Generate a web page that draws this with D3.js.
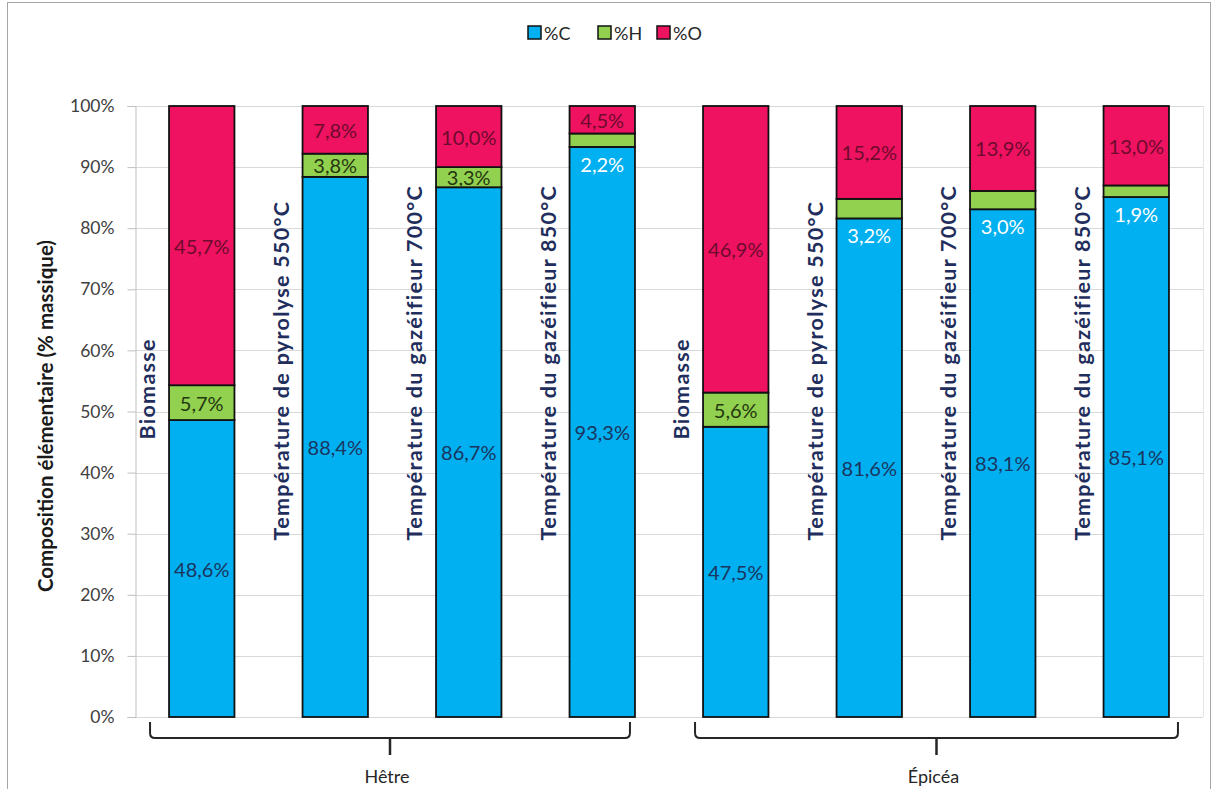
<!DOCTYPE html>
<html><head><meta charset="utf-8">
<script src="https://cdn.jsdelivr.net/npm/d3@7"></script>
<style>
html,body{margin:0;padding:0;background:#fff;}
svg{display:block;font-family:Lato,"Open Sans",sans-serif;}
</style></head>
<body>
<svg id="chart" width="1212" height="789"></svg>
<script>
// ---- data ----
const groups = ["Hêtre", "Épicéa"];
const categories = [
  "Biomasse", "Température de pyrolyse 550°C", "Température du gazéifieur 700°C", "Température du gazéifieur 850°C",
  "Biomasse", "Température de pyrolyse 550°C", "Température du gazéifieur 700°C", "Température du gazéifieur 850°C"
];
const categoryGroup = [0, 0, 0, 0, 1, 1, 1, 1];
const seriesNames = ["%C", "%H", "%O"];
const carbon   = [48.6, 88.4, 86.7, 93.3, 47.5, 81.6, 83.1, 85.1];
const hydrogen = [5.7, 3.8, 3.3, 2.2, 5.6, 3.2, 3.0, 1.9];
const oxygen   = [45.7, 7.8, 10.0, 4.5, 46.9, 15.2, 13.9, 13.0];
const yTicks = [0, 10, 20, 30, 40, 50, 60, 70, 80, 90, 100];
const yTickLabels = ["0%", "10%", "20%", "30%", "40%", "50%", "60%", "70%", "80%", "90%", "100%"];
const yTitle = "Composition élémentaire (% massique)";

// ---- styles / layout ----
const colors = {"%C": "#00B0F0", "%H": "#92D050", "%O": "#EE1260"};
const labelColors = {"%C": "#1B3560", "%H": "#24380F", "%O": "#6E0A2E"};
const bracketPad = [[-19, -5], [-8, 9]];
const fmt = v => d3.format(".1f")(v).replace(".", ",") + "%";

const svg = d3.select("#chart");

// outer border
svg.append("rect").attr("x", 7.5).attr("y", 2.5).attr("width", 1203).attr("height", 800)
  .attr("fill", "none").attr("stroke", "#a6a6a6").attr("stroke-width", 1);

const table = categories.map((c, i) => ({i, "%C": carbon[i], "%H": hydrogen[i], "%O": oxygen[i]}));
const stacked = d3.stack().keys(seriesNames)(table);

const x = d3.scaleBand().domain(d3.range(categories.length)).range([135, 1203])
  .paddingInner(0.51).paddingOuter(0.255);
const y = d3.scaleLinear().domain([0, 100]).range([717, 106]);

// gridlines
svg.append("g").selectAll("line").data(yTicks).join("line")
  .attr("x1", 135).attr("x2", 1203)
  .attr("y1", d => Math.round(y(d)) + 0.5).attr("y2", d => Math.round(y(d)) + 0.5)
  .attr("stroke", "#d9d9d9").attr("stroke-width", 1);
svg.append("line").attr("x1", 1203.5).attr("x2", 1203.5).attr("y1", y(100)).attr("y2", y(0))
  .attr("stroke", "#e6e6e6");

// y axis
const yAxis = d3.axisLeft(y).tickValues(yTicks).tickFormat((d, i) => yTickLabels[i]).tickSize(8).tickPadding(13);
const ga = svg.append("g").attr("transform", "translate(135.5,0)").call(yAxis);
ga.select(".domain").attr("stroke", "#bfbfbf");
ga.selectAll(".tick line").attr("stroke", "#bfbfbf");
ga.selectAll(".tick text").attr("fill", "#404040").attr("font-size", 17.5)
  .attr("font-family", "Lato, 'Open Sans', sans-serif");

// y title
svg.append("text").attr("transform", "translate(45,416) rotate(-90)")
  .attr("text-anchor", "middle").attr("dominant-baseline", "central")
  .attr("font-weight", "bold").attr("font-size", 20.5).attr("fill", "#1a1a1a").text(yTitle);

// bars
const layer = svg.append("g").selectAll("g").data(stacked).join("g")
  .attr("fill", d => colors[d.key]);
layer.selectAll("rect").data(d => d).join("rect")
  .attr("x", d => x(d.data.i)).attr("width", x.bandwidth())
  .attr("y", d => y(d[1])).attr("height", d => y(d[0]) - y(d[1]))
  .attr("stroke", "#111").attr("stroke-width", 1.8);

// data labels
stacked.forEach(s => {
  s.forEach(d => {
    const v = d[1] - d[0];
    const cx = x(d.data.i) + x.bandwidth() / 2;
    const segH = y(d[0]) - y(d[1]);
    let cy = (y(d[0]) + y(d[1])) / 2, fill = labelColors[s.key];
    if (segH < 20) { cy = y(d[0]) + 17; fill = "#ffffff"; }
    svg.append("text").attr("x", cx).attr("y", cy)
      .attr("text-anchor", "middle").attr("dominant-baseline", "central")
      .attr("font-size", 20).attr("fill", fill).text(fmt(v));
  });
});

// rotated category labels
svg.append("g").selectAll("text").data(categories).join("text")
  .attr("transform", (c, i) => {
    const lx = x(i) - 22;
    const ly = c === "Biomasse" ? y(45.4) : y(28.9);
    return `translate(${lx},${ly}) rotate(-90)`;
  })
  .attr("text-anchor", "start").attr("dominant-baseline", "central")
  .attr("font-weight", "bold").attr("font-size", 21.5).attr("letter-spacing", 1.3)
  .attr("fill", "#1F2E5C")
  .text(c => c);

// group brackets
groups.forEach((g, gi) => {
  const idx = d3.range(categories.length).filter(i => categoryGroup[i] === gi);
  const x0 = x(idx[0]) + bracketPad[gi][0];
  const x1 = x(idx[idx.length - 1]) + x.bandwidth() + bracketPad[gi][1];
  const top = 722, base = 738, r = 5, mid = (x0 + x1) / 2;
  const p = `M${x0},${top} L${x0},${base - r} Q${x0},${base} ${x0 + r},${base} L${x1 - r},${base} Q${x1},${base} ${x1},${base - r} L${x1},${top}`;
  svg.append("path").attr("d", p).attr("fill", "none").attr("stroke", "#262626").attr("stroke-width", 2);
  svg.append("line").attr("x1", mid).attr("x2", mid).attr("y1", base).attr("y2", 755)
    .attr("stroke", "#262626").attr("stroke-width", 2.5);
  svg.append("text").attr("x", mid - 3).attr("y", 776).attr("text-anchor", "middle")
    .attr("dominant-baseline", "central").attr("font-size", 18).attr("fill", "#262626").text(g);
});

// legend
const legendX = [528, 598, 657];
const lg = svg.append("g");
seriesNames.forEach((n, i) => {
  lg.append("rect").attr("x", legendX[i]).attr("y", 26).attr("width", 13).attr("height", 13)
    .attr("fill", colors[n]).attr("stroke", "#111").attr("stroke-width", 1.5);
  lg.append("text").attr("x", legendX[i] + 16).attr("y", 32.5).attr("dominant-baseline", "central")
    .attr("font-size", 18).attr("fill", "#262626").text(n);
});
</script>
</body></html>
